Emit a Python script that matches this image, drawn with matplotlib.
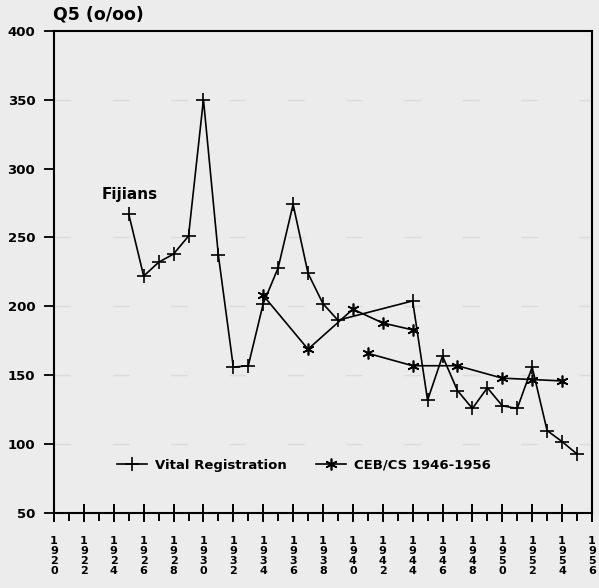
import matplotlib
matplotlib.use('Agg')
import matplotlib.pyplot as plt
from matplotlib.ticker import MultipleLocator
import numpy as np

# Q5 (per thousand) for Fijians
vr_years = [1925, 1926, 1927, 1928, 1929, 1930, 1931, 1932, 1933, 1934, 1935, 1936,
            1937, 1938, 1939, 1944, 1945, 1946, 1947, 1948, 1949, 1950, 1951, 1952,
            1953, 1954, 1955]
vr_q5 = [267, 222, 232, 238, 251, 350, 237, 156, 157, 202, 228, 274,
         224, 202, 190, 204, 132, 164, 139, 126, 141, 128, 126, 156,
         110, 102, 93]

# CEB/CS estimates, two sets (1946 and 1956)
ceb46_years = [1934, 1937, 1940, 1942, 1944]
ceb46_q5 = [208, 169, 198, 188, 183]
ceb56_years = [1941, 1944, 1947, 1950, 1952, 1954]
ceb56_q5 = [166, 157, 157, 148, 147, 146]

yticks = [50, 100, 150, 200, 250, 300, 350, 400]
xticks = list(range(1920, 1957, 2))

bg = '#ececec'
plt.rcParams['font.family'] = 'DejaVu Sans'
plt.rcParams['font.weight'] = 'bold'

fig = plt.figure(figsize=(5.99, 5.88), dpi=100, facecolor=bg)
ax = fig.add_axes([0.0902, 0.127, 0.898, 0.821], facecolor=bg)

# faint grid left over on the scan
for y in [100, 150, 200, 250, 350]:
    ax.axhline(y, color='#dcdcdc', lw=1, ls=(0, (12, 30)), zorder=0)

star = (6, 2, 0)
ax.plot(vr_years, vr_q5, color='black', lw=1.2, marker='+', ms=9.5, mew=1.2,
        label='Vital Registration')
ax.plot(ceb46_years, ceb46_q5, color='black', lw=1.2, marker=star, ms=8.5, mew=1.2,
        label='CEB/CS 1946-1956')
ax.plot(ceb56_years, ceb56_q5, color='black', lw=1.2, marker=star, ms=8.5, mew=1.2)

ax.set_xlim(1920, 1956)
ax.set_ylim(50, 400)

ax.set_yticks(yticks)
ax.set_yticklabels([str(v) for v in yticks], fontsize=9.5, fontweight='bold')
ax.set_xticks(xticks)
ax.set_xticklabels(['\n'.join(str(y)) for y in xticks], fontsize=8,
                   fontweight='bold', linespacing=1.0, va='top')
ax.xaxis.set_minor_locator(MultipleLocator(1))

ax.tick_params(axis='y', direction='out', length=7, width=1.3, pad=6.5)
ax.tick_params(axis='x', which='major', direction='inout', length=13, width=1.4, pad=10)
ax.tick_params(axis='x', which='minor', direction='out', length=6, width=1.4,
               bottom=True)

for s in ax.spines.values():
    s.set_linewidth(1.5)
    s.set_color('black')

ax.text(1923.2, 281, 'Fijians', fontsize=11, fontweight='bold', va='center')
fig.text(0.088, 0.975, 'Q5 (o/oo)', fontsize=12.5, fontweight='bold', va='center')

leg = ax.legend(loc='center left', bbox_to_anchor=(0.095, 0.1), ncol=2, frameon=False,
                handlelength=2.3, columnspacing=2.2, handletextpad=0.6,
                prop={'weight': 'bold', 'size': 9.5})

fig.savefig('out.png', dpi=100, facecolor=bg)
